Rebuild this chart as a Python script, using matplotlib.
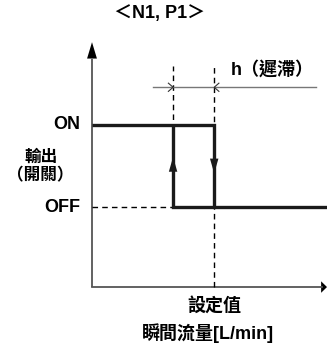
import matplotlib
matplotlib.use("Agg")
import matplotlib.pyplot as plt
from matplotlib.patches import Polygon

plt.rcParams['font.family'] = ['Liberation Sans', 'Noto Sans CJK TC', 'DejaVu Sans']

# ---- data (abstract units) ----
levels = {"OFF": 0.0, "ON": 1.0}
level_labels = ["ON", "OFF"]
on_threshold = 3.45      # OFF -> ON (rising edge, lower flow)
off_threshold = 5.2      # ON -> OFF (set value)
x_end = 10.0
title = "＜N1, P1＞"
ylabel_lines = ["輸出", "（開關）"]
hyst_label = "h（遲滯）"
setpoint_label = "設定值"
xlabel = "瞬間流量[L/min]"

W, H = 327, 347
fig = plt.figure(figsize=(W / 100, H / 100), dpi=100)
ax = fig.add_axes([0, 0, 1, 1])
ax.set_xlim(-3.915, 10.0)
ax.set_ylim(-1.707, 2.524)
ax.axis('off')

y_bottom = -0.976
y_top = 2.01
ON, OFF = levels["ON"], levels["OFF"]
axis_col = "#555555"
fs = 13

# axes
ax.plot([0, 0], [y_bottom, y_top - 0.2], color=axis_col, lw=1.3, solid_capstyle='butt')
ax.add_patch(Polygon([[0, y_top], [-0.21, y_top - 0.2], [0.21, y_top - 0.2]],
                     closed=True, color="black", lw=0))
ax.plot([0, x_end - 0.2], [y_bottom, y_bottom], color=axis_col, lw=1.3)
ax.add_patch(Polygon([[x_end, y_bottom], [x_end - 0.25, y_bottom + 0.07], [x_end - 0.25, y_bottom - 0.07]],
                     closed=True, color="black", lw=0))

# dashed guides
dash = dict(color="black", lw=1.0, linestyle=(0, (4, 3)))
ax.plot([on_threshold, on_threshold], [OFF, 1.72], **dash)
ax.plot([off_threshold, off_threshold], [y_bottom, 1.72], **dash)
ax.plot([0, on_threshold], [OFF, OFF], **dash)

# hysteresis loop
thick = dict(color="#1a1a1a", lw=2.4, solid_capstyle='butt', solid_joinstyle='miter')
ax.plot([0, off_threshold, off_threshold], [ON, ON, OFF], **thick)
ax.plot([on_threshold, on_threshold, x_end], [ON, OFF, OFF], **thick)

# direction arrows on vertical edges
aw, ah = 0.18, 0.18
ytip_up = 0.61
ax.add_patch(Polygon([[on_threshold, ytip_up], [on_threshold - aw, ytip_up - ah],
                      [on_threshold + aw, ytip_up - ah]], closed=True, color="#1a1a1a", lw=0))
ytip_dn = 0.41
ax.add_patch(Polygon([[off_threshold, ytip_dn], [off_threshold - aw, ytip_dn + ah],
                      [off_threshold + aw, ytip_dn + ah]], closed=True, color="#1a1a1a", lw=0))

# hysteresis dimension line
yh = 1.46
ax.plot([2.6, 9.53], [yh, yh], color="#777777", lw=1.0)
ax.plot([on_threshold - 0.2, on_threshold, on_threshold - 0.2], [yh + 0.05, yh, yh - 0.05],
        color="#333333", lw=0.8)
ax.plot([off_threshold + 0.2, off_threshold, off_threshold + 0.2], [yh + 0.05, yh, yh - 0.05],
        color="#333333", lw=0.8)

# texts
tw = 'bold'
ax.text(-0.51, ON, level_labels[0], ha='right', va='center', fontsize=fs, fontweight=tw)
ax.text(-0.51, OFF, level_labels[1], ha='right', va='center', fontsize=fs, fontweight=tw)
ax.text(-2.17, 0.61, ylabel_lines[0], ha='center', va='center', fontsize=12, fontweight=tw)
ax.text(-2.21, 0.39, ylabel_lines[1], ha='center', va='center', fontsize=12, fontweight=tw)
ax.text(2.89, 2.354, title, ha='center', va='center', fontsize=fs, fontweight=tw)
ax.text(7.66, 1.67, hyst_label, ha='center', va='center', fontsize=fs, fontweight=tw)
ax.text(off_threshold, -1.207, setpoint_label, ha='center', va='center', fontsize=fs, fontweight=tw)
ax.text(4.94, -1.537, xlabel, ha='center', va='center', fontsize=fs, fontweight=tw)

fig.savefig("out.png", dpi=100)
